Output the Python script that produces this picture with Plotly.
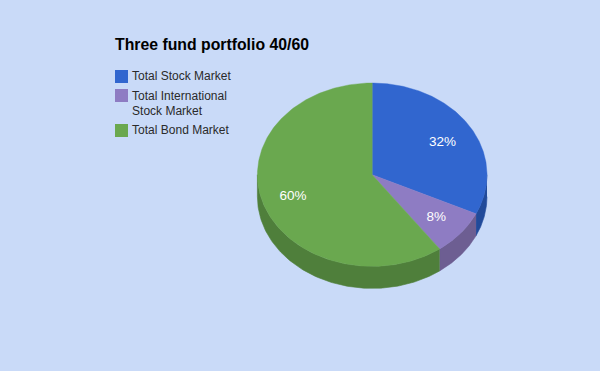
import numpy as np
import plotly.graph_objects as go

title = "Three fund portfolio 40/60"
categories = ["Total Stock Market", "Total International Stock Market", "Total Bond Market"]
legend_labels = ["Total Stock Market", "Total International<br>Stock Market", "Total Bond Market"]
values = [32, 8, 60]
colors = ["#3166cf", "#8e7cc3", "#6aa84f"]
side_colors = ["#214a9a", "#6d5e92", "#4f7f3b"]

W, H = 600, 371
CX, CY, RX, RY, DEPTH = 372.2, 174.7, 114.8, 91.7, 22
LEG_X = 121.5
LEG_Y = [76.5, 95.5, 130.5]
LEG_TEXT_Y = [77.3, 104.5, 131.3]


def pt(a, dy=0.0):
    a = np.asarray(a)
    return CX + RX * np.sin(a), CY - RY * np.cos(a) + dy


fracs = np.array(values) / sum(values)
edges = np.concatenate([[0], np.cumsum(fracs)]) * 2 * np.pi

fig = go.Figure()

# extruded wall (only the front half of the ellipse is visible)
for i, name in enumerate(categories):
    lo, hi = max(edges[i], np.pi / 2), min(edges[i + 1], 3 * np.pi / 2)
    if hi <= lo:
        continue
    t = np.linspace(lo, hi, 120)
    x1, y1 = pt(t)
    x2, y2 = pt(t[::-1], DEPTH)
    fig.add_trace(go.Scatter(x=np.r_[x1, x2], y=np.r_[y1, y2], fill="toself", mode="lines",
                             line=dict(width=0.6, color=side_colors[i]), fillcolor=side_colors[i],
                             hoverinfo="skip", showlegend=False))

# top face
for i, name in enumerate(categories):
    t = np.linspace(edges[i], edges[i + 1], 240)
    x, y = pt(t)
    fig.add_trace(go.Scatter(x=np.r_[CX, x, CX], y=np.r_[CY, y, CY], fill="toself", mode="lines",
                             line=dict(width=0.4, color=colors[i]), fillcolor=colors[i],
                             name=name, hoverinfo="name", showlegend=False))

# percent labels
mids = (edges[:-1] + edges[1:]) / 2
lx, ly = pt(mids)
lx = CX + (lx - CX) * 0.725
ly = CY + (ly - CY) * 0.70 + 2.5
fig.add_trace(go.Scatter(x=lx, y=ly, mode="text", text=[f"{v}%" for v in values],
                         textposition="middle center",
                         textfont=dict(family="Liberation Sans, Arial, sans-serif", size=13.5, color="#ffffff"),
                         hoverinfo="skip", showlegend=False))

# legend swatches and labels
fig.add_trace(go.Scatter(x=[LEG_X] * 3, y=LEG_Y, mode="markers",
                         marker=dict(symbol="square", size=13, color=colors, line=dict(width=0)),
                         hoverinfo="skip", showlegend=False))
fig.add_trace(go.Scatter(x=[LEG_X + 10.6] * 3, y=LEG_TEXT_Y, mode="text", text=legend_labels,
                         textposition="middle right",
                         textfont=dict(family="Liberation Sans, Arial, sans-serif", size=12, color="#2a2a2a"),
                         hoverinfo="skip", showlegend=False))

fig.update_layout(
    width=W, height=H, margin=dict(l=0, r=0, t=0, b=0),
    paper_bgcolor="#c9daf8", plot_bgcolor="#c9daf8", showlegend=False,
    title=dict(text=title, x=115 / W, xanchor="left", y=1 - 44.5 / H, yanchor="middle",
               font=dict(family="Liberation Sans, Arial, sans-serif", size=15.8, color="#000000", weight="bold")),
    xaxis=dict(range=[0, W], visible=False, fixedrange=True),
    yaxis=dict(range=[H, 0], visible=False, fixedrange=True),
)
fig.write_html("out.html", config=dict(displayModeBar=False),
               post_script="document.body.style.margin='0';document.body.style.overflow='hidden';document.body.style.background='#c9daf8';")
